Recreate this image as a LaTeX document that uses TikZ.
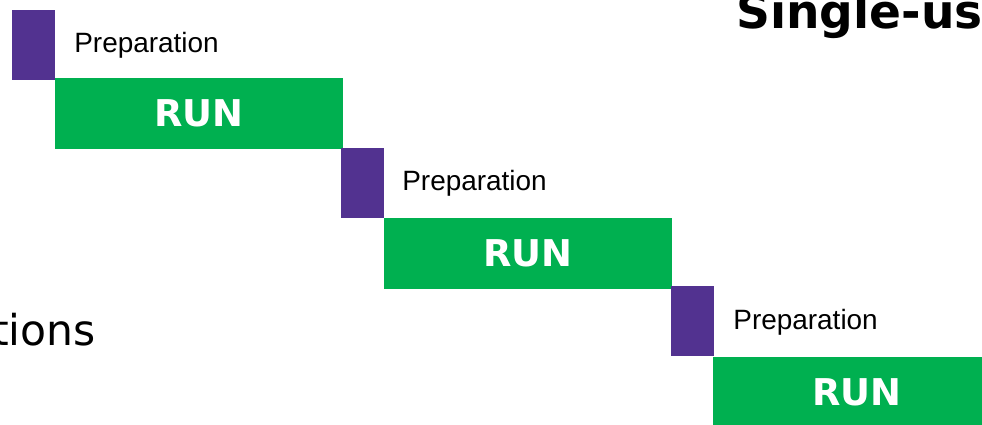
\documentclass[tikz,border=0pt]{standalone}
\usepackage{fontspec}
\newfontfamily\prepfont{Liberation Sans}
\newfontfamily\runfont{DejaVu Sans}
\usetikzlibrary{positioning}
\definecolor{prepPurple}{RGB}{82,50,144}
\definecolor{runGreen}{RGB}{0,176,80}
\tikzset{
  prep box/.style={rectangle, fill=prepPurple, inner sep=0pt, outer sep=0pt, minimum width=0.86cm, minimum height=1.4cm, anchor=north west},
  run box/.style={rectangle, fill=runGreen, inner sep=0pt, outer sep=0pt, minimum width=5.76cm, minimum height=1.42cm, anchor=north west},
  run label/.style={text=white, font=\runfont\bfseries\fontsize{21}{21}\selectfont, inner sep=0pt},
  prep label/.style={font=\prepfont\fontsize{15.9}{16}\selectfont, inner sep=0pt, anchor=base west},
  title text/.style={font=\runfont\bfseries\fontsize{26.8}{27}\selectfont, inner sep=0pt, anchor=base west},
  body text/.style={font=\runfont\fontsize{24.2}{25}\selectfont, inner sep=0pt, anchor=base east},
}

\begin{document}
\begin{tikzpicture}[x=0.02cm, y=-0.02cm]
  \useasboundingbox (0,0) rectangle (982,424);
  % stage 1
  \node[prep box] (prep1) at (12,10) {};
  \node[run box] (run1) at (55,78) {};
  \node[run label] (runtext1) at (run1.center) {RUN};
  \node[prep label] (preptext1) at (74,52) {Preparation};
  % stage 2
  \node[prep box] (prep2) at (341,148) {};
  \node[run box] (run2) at (384,218) {};
  \node[run label] (runtext2) at (run2.center) {RUN};
  \node[prep label] (preptext2) at (402,190) {Preparation};
  % stage 3
  \node[prep box] (prep3) at (671,286) {};
  \node[run box] (run3) at (713,357) {};
  \node[run label] (runtext3) at (run3.center) {RUN};
  \node[prep label] (preptext3) at (733,329) {Preparation};
  % cut-off texts
  \node[title text] (title) at (736,28) {Single-us};
  \node[body text] (body) at (96,345) {tions};
\end{tikzpicture}
\end{document}
